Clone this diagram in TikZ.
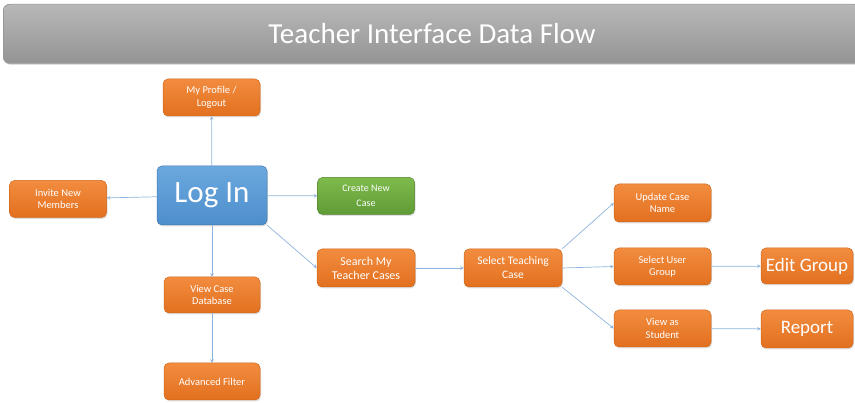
\documentclass[tikz,border=0pt]{standalone}
\usepackage{fontspec}
\setmainfont{Carlito}
\usetikzlibrary{arrows.meta,shadows}
\definecolor{orangetop}{HTML}{F28C3F}
\definecolor{orangebot}{HTML}{E2701F}
\definecolor{orangeedge}{HTML}{CF6619}
\definecolor{bluetop}{HTML}{6AA8DE}
\definecolor{bluebot}{HTML}{4E8ECB}
\definecolor{greentop}{HTML}{7FBA4C}
\definecolor{greenbot}{HTML}{5F9C36}
\definecolor{flowblue}{HTML}{8FB4DE}
\tikzset{every picture/.style={line width=0.75pt}}
\tikzset{
  task/.style={rounded corners=5pt, draw=orangeedge, line width=0.5pt,
    top color=orangetop, bottom color=orangebot, text=white, align=center,
    minimum width=97pt, minimum height=37pt, inner sep=2pt,
    font=\fontsize{10.5}{12.5}\selectfont,
    drop shadow={opacity=0.25, shadow xshift=1pt, shadow yshift=-1.5pt}},
  bigtask/.style={task, font=\fontsize{19}{22}\selectfont, minimum width=92pt},
  flow/.style={draw=flowblue, line width=0.7pt, -{Stealth[length=3.5pt,width=3.5pt]}}
}

\begin{document}
\begin{tikzpicture}[x=1pt,y=-1pt]
\useasboundingbox (0,0) rectangle (855,403);
%
\node (title) [rounded corners=6pt, draw=gray!80, top color=black!28, bottom color=black!42,
  minimum width=857pt, minimum height=59pt, anchor=north west, text=white,
  font=\fontsize{29}{34}\selectfont,
  drop shadow={opacity=0.25, shadow xshift=1pt, shadow yshift=-1.5pt}] at (3,4) {};
\node at (432,33.5) [text=white, font=\fontsize{29}{34}\selectfont] {Teacher Interface Data Flow};
%
\node (profile) [task] at (211.5,97.5) {My Profile /\\Logout};
\node (login) [task, minimum width=110pt, minimum height=59pt, draw=bluebot!85!black,
  top color=bluetop, bottom color=bluebot, font=\fontsize{31}{36}\selectfont] at (212,195.5) {Log In};
\node (invite) [task] at (58,199) {Invite New\\Members};
\node (create) [task, draw=greenbot!85!black, top color=greentop, bottom color=greenbot,
  font=\fontsize{10}{15}\selectfont] at (366,196) {Create New\\Case};
\node (viewdb) [task, minimum width=96pt, minimum height=36pt] at (212,295) {View Case\\Database};
\node (filter) [task, minimum width=96pt] at (212,381.5) {Advanced Filter};
%
\node (search) [task, minimum width=98pt, minimum height=38pt, font=\fontsize{12}{14}\selectfont] at (366,268) {Search My\\Teacher Cases};
\node (select) [task, minimum width=98pt, minimum height=38pt, font=\fontsize{11.5}{14}\selectfont] at (513,268) {Select Teaching\\Case};
%
\node (update) [task, minimum height=38pt] at (662.5,203) {Update Case\\Name};
\node (group) [task] at (662.5,266.5) {Select User\\Group};
\node (student) [task] at (662.5,328.5) {View as\\Student};
\node (edit) [bigtask, minimum height=36pt] at (807,266) {Edit Group};
\node (report) [bigtask, minimum height=38pt] at (807,329) {Report};
%
\foreach \Source/\Target in {%
	login/profile,
	login/invite,
	login/create,
	login.south east/search.west,
	login/viewdb,
	viewdb/filter,
	search/select,
	select.north east/update.west,
	select.east/group.west,
	select.south east/student.west,
	group/edit,
	student/report%
    }
\draw[flow] (\Source) to (\Target);
\end{tikzpicture}
\end{document}
